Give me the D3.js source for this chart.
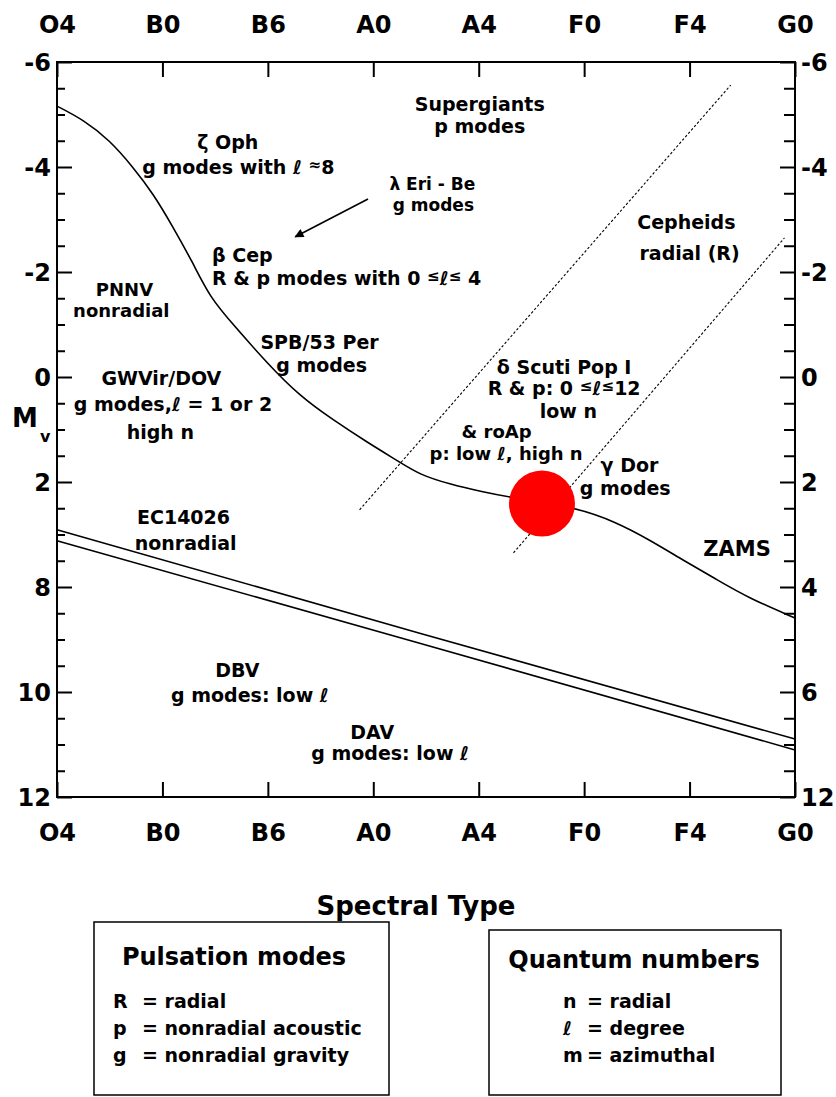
<!DOCTYPE html>
<html>
<head>
<meta charset="utf-8">
<script src="https://cdn.jsdelivr.net/npm/d3@7"></script>
<style>
  html, body { margin: 0; padding: 0; background: #fff; }
  svg { display: block; }
  text { font-family: "DejaVu Sans", sans-serif; font-weight: bold; fill: #000; }
</style>
</head>
<body>
<svg id="chart" width="836" height="1097"></svg>
<script>
// ---------------- data ----------------
const spectralTypes = ["O4", "B0", "B6", "A0", "A4", "F0", "F4", "G0"];
const leftMvTicks  = [-6, -4, -2, 0, 2, 8, 10, 12];
const rightMvTicks = [-6, -4, -2, 0, 2, 4, 6, 12];

// ZAMS (x = spectral-type index, Mv on right-hand scale)
const zamsX  = [0, 0.25, 0.50, 0.72, 0.91, 1.10, 1.29, 1.45, 1.67, 1.99, 2.30, 2.62, 2.94, 3.25, 3.44, 3.72, 4.04, 4.29, 4.92, 5.30, 5.62, 5.94, 6.25, 6.56, 7.00];
const zamsMv = [-5.16, -4.90, -4.51, -4.00, -3.50, -2.86, -2.17, -1.52, -1.00, -0.27, 0.36, 0.82, 1.24, 1.62, 1.86, 2.04, 2.19, 2.29, 2.48, 2.76, 3.10, 3.49, 3.85, 4.21, 4.59];

// white-dwarf sequence (two parallel lines)
const wdUpperX  = [0, 3.44, 7];
const wdUpperMv = [2.91, 4.88, 8.69];
const wdLowerX  = [0, 3.44, 7];
const wdLowerMv = [3.12, 5.07, 9.31];

// instability strip edges (dotted)
const stripBlueX  = [2.87, 6.39];
const stripBlueMv = [2.53, -5.56];
const stripRedX   = [4.33, 6.90];
const stripRedMv  = [3.35, -2.65];

// the Sun-like marker
const markerX = [4.60];
const markerMv = [2.41];

// arrow (from lambda Eri label toward beta Cep)
const arrowX  = [2.95, 2.26];
const arrowMv = [-3.39, -2.67];

// region labels: text, x (spectral index), Mv, anchor
const labelText = [
  "Supergiants", "p modes",
  "ζ Oph", "g modes with ℓ {≈}8",
  "λ Eri - Be", "g modes",
  "β Cep", "R & p modes with 0 {≤}ℓ{≤} 4",
  "PNNV", "nonradial",
  "SPB/53 Per", "g modes",
  "GWVir/DOV", "g modes,ℓ = 1 or 2", "high n",
  "EC14026", "nonradial",
  "DBV", "g modes: low  ℓ",
  "Cepheids", "radial (R)",
  "δ Scuti Pop I", "R & p: 0 {≤}ℓ{≤}12", "low  n",
  "& roAp", "p: low ℓ, high n",
  "γ Dor", "g modes",
  "ZAMS",
  "DAV", "g modes: low  ℓ"
];
const labelX = [4.01, 4.01, 1.62, 1.72, 3.56, 3.57, 1.47, 1.47, 0.64, 0.61, 2.49, 2.51, 0.99, 1.10, 0.98, 1.20, 1.22, 1.71, 1.83, 5.97, 6.00, 4.81, 4.81, 4.85, 4.17, 4.26, 5.43, 5.39, 6.45, 2.99, 3.16];
const labelMv = [-5.20, -4.78, -4.48, -4.00, -3.68, -3.28, -2.32, -1.89, -1.66, -1.26, -0.67, -0.23, 0.02, 0.51, 1.05, 2.67, 3.16, 5.58, 6.17, -2.95, -2.36, -0.19, 0.21, 0.65, 1.04, 1.45, 1.68, 2.11, 3.26, 8.29, 9.49];
const labelSize = [19, 19, 19, 19, 17, 17, 19, 19, 18, 18, 19, 19, 19, 19, 19, 19, 19, 19, 19, 19, 19, 19, 19, 19, 18, 18, 19, 19, 21, 19, 19];
const labelAnchor = ["middle","middle","middle","middle","middle","middle","start","start","middle","middle","middle","middle","middle","middle","middle","middle","middle","middle","middle","middle","middle","middle","middle","middle","middle","middle","middle","middle","middle","middle","middle"];

const xTitle = "Spectral Type";
const legend1Title = "Pulsation modes";
const legend1Keys = ["R", "p", "g"];
const legend1Vals = ["= radial", "= nonradial acoustic", "= nonradial gravity"];
const legend2Title = "Quantum numbers";
const legend2Keys = ["n", "ℓ", "m"];
const legend2Vals = ["= radial", "= degree", "= azimuthal"];

// ---------------- drawing ----------------
const svg = d3.select("#chart");
const L = 57, R = 795, T = 62, B = 797;

const x = d3.scaleLinear().domain([0, 7]).range([L, R]);
const yR = d3.scaleLinear().domain([-6, 6, 12]).range([T, T + (B - T) * 6 / 7, B]);
const yL = d3.scaleLinear().domain([-6, 2, 8, 12]).range([T, T + (B - T) * 4 / 7, T + (B - T) * 5 / 7, B]);

svg.append("rect").attr("width", 836).attr("height", 1097).attr("fill", "#fff");

// axes
const fontAxis = 24;
const fmt = d => String(d);
function styleAxis(g) {
  g.selectAll(".domain").remove();
  g.selectAll(".tick line").attr("stroke", "#000").attr("stroke-width", 2);
  g.selectAll(".tick text").attr("font-family", "DejaVu Sans").attr("font-weight", "bold")
    .attr("font-size", fontAxis).attr("fill", "#000");
}
const gTop = svg.append("g").attr("transform", `translate(0,${T})`)
  .call(d3.axisTop(x).tickValues(d3.range(8)).tickFormat(i => spectralTypes[i]).tickSize(-15));
styleAxis(gTop);
gTop.selectAll(".tick text").attr("y", -29).attr("dy", 0);

const gBot = svg.append("g").attr("transform", `translate(0,${B})`)
  .call(d3.axisBottom(x).tickValues(d3.range(8)).tickFormat(i => spectralTypes[i]).tickSize(-15));
styleAxis(gBot);
gBot.selectAll(".tick text").attr("y", 44).attr("dy", 0);

function minorTicks(majors) {
  const out = [];
  for (let i = 0; i < majors.length - 1; i++) {
    for (let k = 1; k < 4; k++) out.push(majors[i] + (majors[i + 1] - majors[i]) * k / 4);
  }
  return out;
}
const gLeft = svg.append("g").attr("transform", `translate(${L},0)`)
  .call(d3.axisLeft(yL).tickValues(leftMvTicks).tickFormat(fmt).tickSize(-15));
styleAxis(gLeft);
gLeft.selectAll(".tick text").attr("x", -6).attr("dy", "0.36em");
const gLeftMinor = svg.append("g").attr("transform", `translate(${L},0)`)
  .call(d3.axisLeft(yL).tickValues(minorTicks(leftMvTicks)).tickFormat("").tickSize(-8));
styleAxis(gLeftMinor);

const gRight = svg.append("g").attr("transform", `translate(${R},0)`)
  .call(d3.axisRight(yR).tickValues(rightMvTicks).tickFormat(fmt).tickSize(-15));
styleAxis(gRight);
gRight.selectAll(".tick text").attr("x", 6).attr("dy", "0.36em");
const gRightMinor = svg.append("g").attr("transform", `translate(${R},0)`)
  .call(d3.axisRight(yR).tickValues(minorTicks(rightMvTicks)).tickFormat("").tickSize(-11));
styleAxis(gRightMinor);

// frame
svg.append("rect").attr("x", L).attr("y", T).attr("width", R - L).attr("height", B - T)
  .attr("fill", "none").attr("stroke", "#000").attr("stroke-width", 2);

// lines
const zip = (a, b) => a.map((v, i) => [v, b[i]]);
const smooth = d3.line().x(d => x(d[0])).y(d => yR(d[1])).curve(d3.curveBasis);
const line = d3.line().x(d => x(d[0])).y(d => yR(d[1]));

svg.append("path").datum(zip(zamsX, zamsMv))
  .attr("d", smooth)
  .attr("fill", "none").attr("stroke", "#000").attr("stroke-width", 1.6);
[[wdUpperX, wdUpperMv], [wdLowerX, wdLowerMv]].forEach(([a, b]) => {
  svg.append("path").datum(zip(a, b)).attr("d", line)
    .attr("fill", "none").attr("stroke", "#000").attr("stroke-width", 1.6);
});
[[stripBlueX, stripBlueMv], [stripRedX, stripRedMv]].forEach(([a, b]) => {
  svg.append("path").datum(zip(a, b)).attr("d", line)
    .attr("fill", "none").attr("stroke", "#000").attr("stroke-width", 1.1)
    .attr("stroke-dasharray", "2.5,2");
});

// arrow
svg.append("defs").append("marker").attr("id", "ah")
  .attr("viewBox", "0 0 10 10").attr("refX", 9).attr("refY", 5)
  .attr("markerWidth", 12).attr("markerHeight", 9).attr("markerUnits", "userSpaceOnUse")
  .attr("orient", "auto")
  .append("path").attr("d", "M0,0 L10,5 L0,10 Z").attr("fill", "#000");
svg.append("path").datum(zip(arrowX, arrowMv)).attr("d", line)
  .attr("fill", "none").attr("stroke", "#000").attr("stroke-width", 1.6)
  .attr("marker-end", "url(#ah)");

// red marker
svg.selectAll("circle.mk").data(zip(markerX, markerMv)).enter().append("circle")
  .attr("class", "mk").attr("cx", d => x(d[0])).attr("cy", d => yR(d[1]))
  .attr("r", 33).attr("fill", "#ff0000");

// labels
function rich(textSel, str, size) {
  const parts = str.split(/(\{[^}]*\})/).filter(p => p.length);
  let raised = false;
  parts.forEach(p => {
    if (p[0] === "{") {
      textSel.append("tspan").text(p.slice(1, -1)).attr("font-size", size * 0.8)
        .attr("dy", raised ? 0 : -4);
      raised = true;
    } else {
      textSel.append("tspan").text(p).attr("dy", raised ? 4 : 0);
      raised = false;
    }
  });
}
labelText.forEach((t, i) => {
  const size = labelSize[i];
  const el = svg.append("text")
    .attr("x", x(labelX[i])).attr("y", yR(labelMv[i]) + size * 0.36)
    .attr("text-anchor", labelAnchor[i]).attr("font-size", size);
  rich(el, t, size);
});

// M_v label
const mv = svg.append("text").attr("x", 12).attr("y", 427).attr("font-size", 26);
mv.append("tspan").text("M");
mv.append("tspan").text("v").attr("font-size", 16).attr("dx", 2).attr("dy", 15);

// x title
svg.append("text").attr("x", 416).attr("y", 915).attr("text-anchor", "middle")
  .attr("font-size", 26).text(xTitle);

// legend boxes
function legendBox(x0, y0, x1, y1, title, titleX, titleY, keys, vals, keyX, valX, rowY) {
  svg.append("rect").attr("x", x0).attr("y", y0).attr("width", x1 - x0).attr("height", y1 - y0)
    .attr("fill", "none").attr("stroke", "#000").attr("stroke-width", 1.5);
  svg.append("text").attr("x", titleX).attr("y", titleY).attr("text-anchor", "middle")
    .attr("font-size", 24).text(title);
  keys.forEach((k, i) => {
    svg.append("text").attr("x", keyX).attr("y", rowY + i * 27).attr("font-size", 19).text(k);
    svg.append("text").attr("x", valX).attr("y", rowY + i * 27).attr("font-size", 19).text(vals[i]);
  });
}
legendBox(94, 922, 389, 1095, legend1Title, 234, 965, legend1Keys, legend1Vals, 113, 142, 1008);
legendBox(489, 930, 781, 1095, legend2Title, 634, 968, legend2Keys, legend2Vals, 563, 587, 1008);
</script>
</body>
</html>
